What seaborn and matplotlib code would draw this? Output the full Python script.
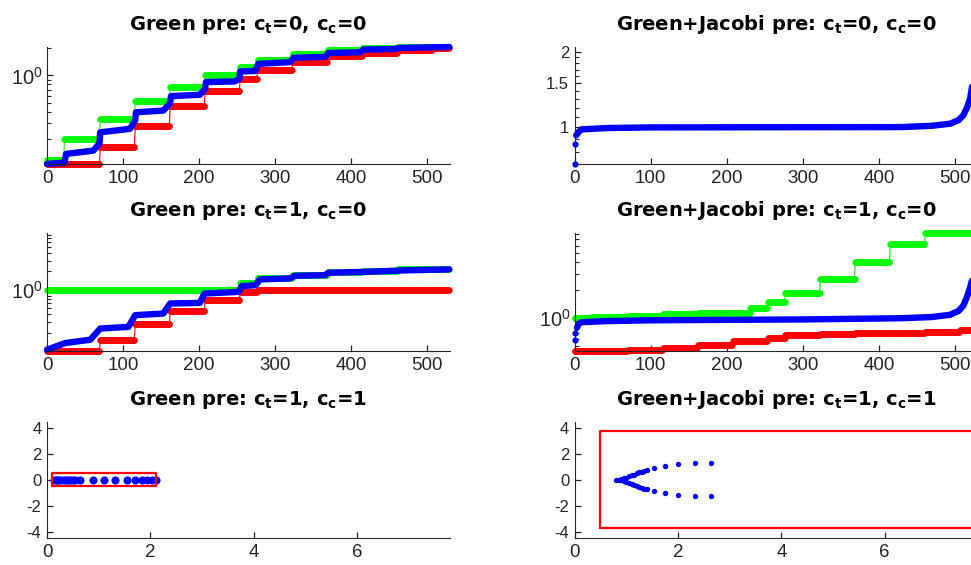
import numpy as np
import pandas as pd
import matplotlib
matplotlib.use('Agg')
import matplotlib.pyplot as plt
import seaborn as sns
from matplotlib.ticker import FixedLocator, FixedFormatter, NullFormatter

# number of eigenvalues per spectrum
N = 530

# ---- Green pre: ct=0, cc=0 (sorted eigenvalues, log scale)
tl_red_cuts = [0, 70, 116, 162, 208, 254, 277, 323, 369, 415, 461, 507]
tl_red_levels = [0.108, 0.163, 0.282, 0.457, 0.672, 0.904, 1.16, 1.40, 1.62, 1.77, 1.91, 2.01]
tl_green_cuts = [0, 23, 70, 116, 162, 208, 254, 277, 323, 369, 415, 461]
tl_green_levels = [0.118, 0.20, 0.334, 0.531, 0.744, 1.0, 1.23, 1.49, 1.70, 1.88, 1.98, 2.04]
tl_blue_idx = [0, 23, 25, 61, 69, 70, 109, 116, 117, 153, 162, 163, 201, 208, 209, 247, 253,
               254, 274, 278, 320, 324, 366, 370, 412, 416, 458, 462, 529]
tl_blue_val = [0.107, 0.111, 0.138, 0.15, 0.18, 0.238, 0.26, 0.32, 0.395, 0.412, 0.496, 0.593,
               0.614, 0.713, 0.845, 0.86, 0.92, 1.106, 1.12, 1.34, 1.40, 1.56, 1.60, 1.76, 1.80,
               1.92, 1.95, 2.0, 2.05]

# ---- Green pre: ct=1, cc=0
ml_red_cuts = [0, 70, 116, 162, 208, 254, 277]
ml_red_levels = [0.1, 0.154, 0.274, 0.448, 0.678, 0.93, 1.0]
ml_green_cuts = [0, 254, 277, 323, 369, 415, 461]
ml_green_levels = [1.0, 1.27, 1.54, 1.74, 1.93, 2.05, 2.16]
ml_blue_idx = [0, 24, 57, 70, 107, 116, 153, 162, 201, 207, 252, 256, 274, 280, 320, 326,
               366, 370, 420, 470, 529]
ml_blue_val = [0.105, 0.135, 0.153, 0.233, 0.248, 0.385, 0.41, 0.598, 0.612, 0.87, 0.927,
               1.15, 1.19, 1.48, 1.54, 1.70, 1.74, 1.90, 1.97, 2.08, 2.16]

# ---- Green+Jacobi pre: ct=0, cc=0 (first two eigenvalues sit apart as dots)
tr_blue_idx = [0, 1, 2, 5, 9, 42, 100, 430, 470, 494, 505, 511, 516, 520, 524, 529]
tr_blue_val = [0.716, 0.86, 0.93, 0.958, 0.982, 0.994, 1.0, 1.003, 1.015, 1.035, 1.07,
               1.117, 1.2, 1.30, 1.55, 2.09]

# ---- Green+Jacobi pre: ct=1, cc=0
mr_red_cuts = [0, 70, 116, 162, 208, 254, 277, 323, 369, 415, 461, 507]
mr_red_levels = [0.449, 0.46, 0.48, 0.513, 0.566, 0.615, 0.656, 0.68, 0.69, 0.70, 0.705, 0.74]
mr_green_cuts = [0, 23, 70, 116, 162, 231, 254, 277, 323, 369, 415, 461]
mr_green_levels = [1.0, 1.02, 1.05, 1.10, 1.14, 1.29, 1.49, 1.87, 2.65, 4.04, 6.2, 8.1]
mr_blue_idx = [0, 1, 3, 5, 9, 40, 100, 300, 430, 470, 494, 505, 511, 516, 520, 524, 529]
mr_blue_val = [0.58, 0.70, 0.79, 0.87, 0.906, 0.93, 0.95, 0.97, 1.0, 1.03, 1.09, 1.2, 1.36,
               1.7, 2.14, 2.8, 4.0]

# ---- Green pre: ct=1, cc=1 (complex plane)
bl_eig_re = [0.13, 0.17, 0.2, 0.24, 0.28, 0.32, 0.36, 0.4, 0.45, 0.5, 0.55, 0.64, 0.89, 1.1,
             1.32, 1.55, 1.71, 1.84, 1.94, 2.03, 2.1]
bl_eig_im = [0.0] * len(bl_eig_re)
bl_box_x = [0.1, 2.1, 2.1, 0.1, 0.1]
bl_box_y = [-0.5, -0.5, 0.5, 0.5, -0.5]

# ---- Green+Jacobi pre: ct=1, cc=1
br_eig_re = [0.80, 0.85, 0.9, 0.95, 1.0, 1.05, 1.1, 1.15, 1.2, 1.25, 1.3, 1.35, 1.4,
             1.54, 1.75, 2.0, 2.33, 2.63,
             0.9, 0.95, 1.0, 1.05, 1.1, 1.15, 1.2, 1.25, 1.3, 1.35, 1.4,
             1.54, 1.75, 2.0, 2.33, 2.63]
br_eig_im = [0.0, 0.0, 0.05, 0.1, 0.17, 0.25, 0.33, 0.4, 0.5, 0.57, 0.63, 0.7, 0.75,
             0.9, 1.05, 1.18, 1.28, 1.28,
             -0.05, -0.1, -0.17, -0.25, -0.33, -0.4, -0.5, -0.57, -0.63, -0.7, -0.75,
             -0.9, -1.05, -1.18, -1.28, -1.28]
br_box_x = [0.48, 7.75, 7.75, 0.48, 0.48]
br_box_y = [-3.72, -3.72, 3.72, 3.72, -3.72]

sns.set_theme(style='ticks')
ink = '#262626'
plt.rcParams.update({
    'font.family': ['Liberation Sans', 'DejaVu Sans'],
    'mathtext.fontset': 'custom',
    'mathtext.rm': 'Liberation Sans',
    'mathtext.bf': 'DejaVu Sans:bold',
    'mathtext.it': 'Liberation Sans:italic',
    'axes.unicode_minus': False,
    'axes.edgecolor': ink,
    'axes.linewidth': 0.8,
    'xtick.color': ink,
    'ytick.color': ink,
    'xtick.direction': 'in',
    'ytick.direction': 'in',
    'xtick.labelsize': 13.5,
    'ytick.labelsize': 12,
})

blue, red, green = (0, 0, 1), (1, 0, 0), (0, 1, 0)


def steps(cuts, levels):
    counts = np.diff(cuts + [N])
    return pd.DataFrame({'i': np.arange(N), 'v': np.repeat(levels, counts)})


def step_plot(ax, cuts, levels, color):
    sns.lineplot(data=steps(cuts, levels), x='i', y='v', ax=ax, color=color, lw=0.8,
                 marker='o', markersize=4.6, markeredgewidth=0, estimator=None)


def curve_plot(ax, idx, val, dots=0):
    # leading isolated eigenvalues as dots, the rest as one dense thick curve
    if dots:
        sns.scatterplot(x=idx[:dots], y=val[:dots], ax=ax, color=blue, s=20, linewidth=0)
    sns.lineplot(x=idx[dots:], y=val[dots:], ax=ax, color=blue, lw=4.6, estimator=None,
                 sort=False, solid_capstyle='round', solid_joinstyle='round')


def title(ax, txt, ct, cc):
    ax.set_title(txt + r': $\mathbf{c_t}$=' + ct + r', $\mathbf{c_c}$=' + cc,
                 fontsize=14, fontweight='bold', family='DejaVu Sans', pad=12, color='black')


def log_minor(ax, ticks):
    ax.yaxis.set_minor_locator(FixedLocator(ticks))
    ax.yaxis.set_minor_formatter(NullFormatter())


def style(ax):
    ax.set_xlabel('')
    ax.set_ylabel('')
    for s in ['top', 'right']:
        ax.spines[s].set_visible(False)
    ax.tick_params(which='major', length=4, width=0.9, pad=4)
    ax.tick_params(which='minor', length=3, width=0.8, left=True)
    for art in ax.lines + list(ax.collections):
        art.set_clip_on(False)


fig = plt.figure(figsize=(9.71, 5.65), dpi=100)
W, H = 971, 565
lx, rx, aw = 47 / W, 574.7 / W, 403 / W
rows = [(47, 164), (233, 351), (421.7, 538.3)]
pos = [(1 - b / H, (b - t) / H) for t, b in rows]
axs = [[fig.add_axes([x, p[0], aw, p[1]]) for x in (lx, rx)] for p in pos]

dec_lo = [0.2, 0.3, 0.4, 0.5, 0.6, 0.7, 0.8, 0.9]
dec_hi = [2, 3, 4, 5, 6, 7, 8]

# top left
ax = axs[0][0]
step_plot(ax, tl_green_cuts, tl_green_levels, green)
step_plot(ax, tl_red_cuts, tl_red_levels, red)
curve_plot(ax, tl_blue_idx, tl_blue_val)
ax.set_yscale('log')
ax.set_ylim(0.107, 2.05)
log_minor(ax, dec_lo + [2])
title(ax, 'Green pre', '0', '0')

# middle left
ax = axs[1][0]
step_plot(ax, ml_green_cuts, ml_green_levels, green)
step_plot(ax, ml_red_cuts, ml_red_levels, red)
curve_plot(ax, ml_blue_idx, ml_blue_val)
ax.set_yscale('log')
ax.set_ylim(0.1, 8.5)
log_minor(ax, dec_lo + dec_hi)
title(ax, 'Green pre', '1', '0')

# top right
ax = axs[0][1]
curve_plot(ax, tr_blue_idx, tr_blue_val, dots=2)
ax.set_yscale('log')
ax.set_ylim(0.715, 2.09)
ax.yaxis.set_major_locator(FixedLocator([1, 1.5, 2]))
ax.yaxis.set_major_formatter(FixedFormatter(['1', '1.5', '2']))
log_minor(ax, [0.8, 0.9, 1.1, 1.2, 1.3, 1.4, 1.6, 1.7, 1.8, 1.9])
title(ax, 'Green+Jacobi pre', '0', '0')

# middle right
ax = axs[1][1]
step_plot(ax, mr_green_cuts, mr_green_levels, green)
step_plot(ax, mr_red_cuts, mr_red_levels, red)
curve_plot(ax, mr_blue_idx, mr_blue_val, dots=2)
ax.set_yscale('log')
ax.set_ylim(0.445, 8.2)
log_minor(ax, [0.5, 0.6, 0.7, 0.8, 0.9] + dec_hi)
title(ax, 'Green+Jacobi pre', '1', '0')

for r in (0, 1):
    for c in (0, 1):
        ax = axs[r][c]
        ax.set_xlim(0, N)
        ax.set_xticks([0, 100, 200, 300, 400, 500])

# bottom row: complex plane
ax = axs[2][0]
sns.lineplot(x=bl_box_x, y=bl_box_y, ax=ax, color=red, lw=1.6, sort=False, estimator=None)
sns.scatterplot(x=bl_eig_re, y=bl_eig_im, ax=ax, color=blue, s=34, linewidth=0)
title(ax, 'Green pre', '1', '1')

ax = axs[2][1]
sns.lineplot(x=br_box_x, y=br_box_y, ax=ax, color=red, lw=1.6, sort=False, estimator=None)
sns.scatterplot(x=br_eig_re, y=br_eig_im, ax=ax, color=blue, s=15, linewidth=0)
title(ax, 'Green+Jacobi pre', '1', '1')

for ax in axs[2]:
    ax.set_xlim(0, 7.8)
    ax.set_ylim(-4.5, 4.46)
    ax.set_xticks([0, 2, 4, 6])
    ax.set_yticks([-4, -2, 0, 2, 4])

for row in axs:
    for ax in row:
        style(ax)

for ax in (axs[0][0], axs[1][0], axs[1][1]):
    ax.yaxis.set_major_locator(FixedLocator([1]))
    ax.yaxis.set_major_formatter(FixedFormatter([r'$\mathregular{10^0}$']))
    ax.tick_params(axis='y', which='major', labelsize=14.5, pad=3)

fig.savefig('out.png', dpi=100)
